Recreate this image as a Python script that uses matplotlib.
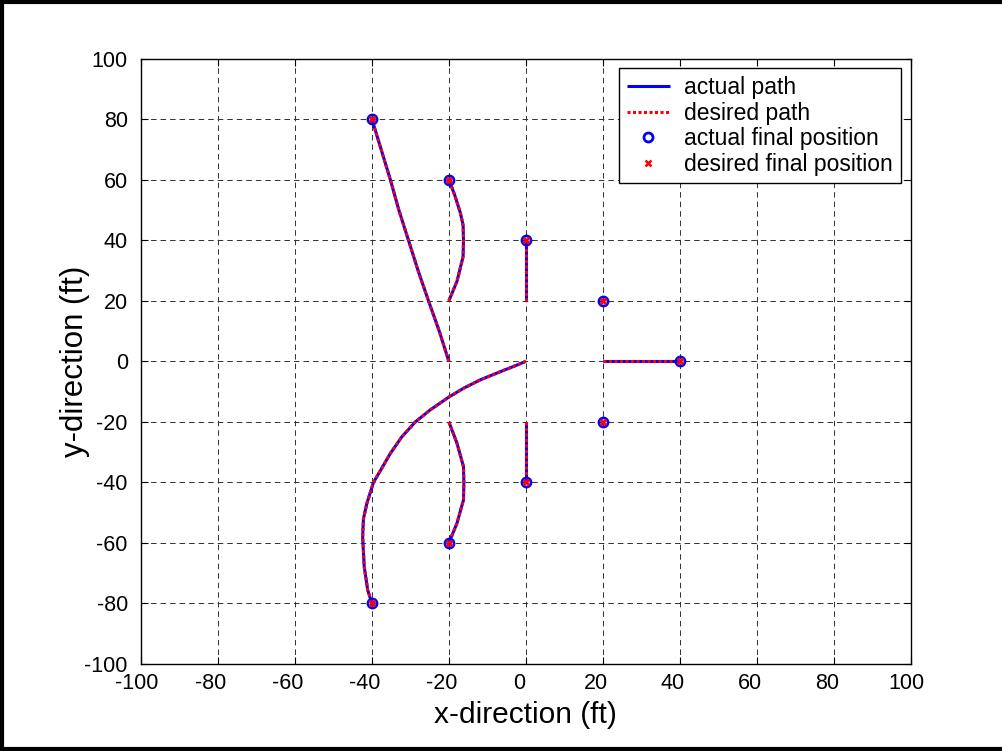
import matplotlib
matplotlib.use("Agg")
import matplotlib.pyplot as plt
from matplotlib.lines import Line2D
from matplotlib.transforms import ScaledTranslation

plt.rcParams['font.family'] = ['Liberation Sans', 'DejaVu Sans']
plt.rcParams['axes.unicode_minus'] = False

# paths of each vehicle (actual and desired coincide)
path1_x = [-20, -22.5, -25.3, -28, -30.5, -33, -35.2, -37.6, -40]
path1_y = [0, 10, 20, 30, 40, 50, 60, 70, 80]
path2_x = [-20, -17.9, -16.3, -16.2, -16.3, -17.0, -18.5, -20]
path2_y = [20, 26.4, 34.6, 40, 45, 49, 55, 60]
path3_x = [0, 0]
path3_y = [20, 40]
path4_x = [20, 40]
path4_y = [0, 0]
path5_x = [0, 0]
path5_y = [-20, -40]
path6_x = [-20, -17.9, -16.2, -16.1, -16.2, -17.9, -20]
path6_y = [-20, -27, -34.8, -40, -45.8, -53.5, -60]
path7_x = [0, -3.2, -6.6, -11.8, -16.2, -20, -24.8, -28.7, -32.2, -35.2,
           -37.7, -39.6, -41.3, -42.2, -42.4, -42.0, -41.1, -40]
path7_y = [0, -1.7, -3.4, -6.1, -8.9, -11.8, -16, -20, -24.9, -30.4,
           -35.9, -40, -46.9, -52, -58, -67.8, -75.5, -80]
paths = [(path1_x, path1_y), (path2_x, path2_y), (path3_x, path3_y),
         (path4_x, path4_y), (path5_x, path5_y), (path6_x, path6_y),
         (path7_x, path7_y)]

final_x = [-40, -20, 0, 20, 40, 20, 0, -20, -40]
final_y = [80, 60, 40, 20, 0, -20, -40, -60, -80]

ticks = [-100, -80, -60, -40, -20, 0, 20, 40, 60, 80, 100]

fig = plt.figure(figsize=(10.03, 7.51), dpi=100)
ax = fig.add_axes([0.1406, 0.1158, 0.7673, 0.8061])

for i, (px, py) in enumerate(paths):
    ax.plot(px, py, color='blue', lw=2.2, solid_capstyle='butt',
            label='actual path' if i == 0 else None, zorder=3)
for i, (px, py) in enumerate(paths):
    ax.plot(px, py, color='red', lw=2.2, linestyle=(0, (1, 0.8)),
            label='desired path' if i == 0 else None, zorder=4)

ax.plot(final_x, final_y, 'o', ms=6.5, mfc='none', mec='blue', mew=2,
        label='actual final position', zorder=5)
ax.plot(final_x, final_y, 'x', ms=4, color='red', mew=1.8,
        label='desired final position', zorder=6)

ax.set_xlim(-100, 100)
ax.set_ylim(-100, 100)
ax.set_xticks(ticks)
ax.set_yticks(ticks)
ax.tick_params(direction='in', labelsize=15.5, length=5, width=0.8,
               top=True, right=True)
ax.tick_params(axis='x', pad=6.5)
ax.tick_params(axis='y', pad=9.5)
ax.grid(True, color='#303030', linestyle=(0, (5.7, 4.1)), linewidth=0.7)
for s in ax.spines.values():
    s.set_linewidth(1)

# x tick labels sit a little left of their ticks in the original
for t, tick in zip(ticks, ax.xaxis.get_major_ticks()):
    dx = -4 if abs(t) == 100 else -7
    shift = ScaledTranslation(dx / 100, 0, fig.dpi_scale_trans)
    tick.label1.set_transform(tick.label1.get_transform() + shift)

ax.set_xlabel('x-direction (ft)', fontsize=21.5, labelpad=5)
ax.set_ylabel('y-direction (ft)', fontsize=22.5, labelpad=-4)

leg = ax.legend(loc='upper right', fontsize=16.5, fancybox=False,
                edgecolor='black', framealpha=1, borderpad=0.34,
                labelspacing=0.11, handlelength=1.85, handletextpad=0.65,
                borderaxespad=0.42)
leg.get_frame().set_linewidth(1)

# black frame on left, top and bottom of the figure
W, H = 1003.0, 751.0
fx = [1.0, 2 / W, 2 / W, 1.0]
fy = [1 - 2 / H, 1 - 2 / H, 2 / H, 2 / H]
fig.add_artist(Line2D(fx, fy, transform=fig.transFigure, color='black',
                      linewidth=3, solid_joinstyle='miter'))

fig.savefig('out.png', dpi=100)
